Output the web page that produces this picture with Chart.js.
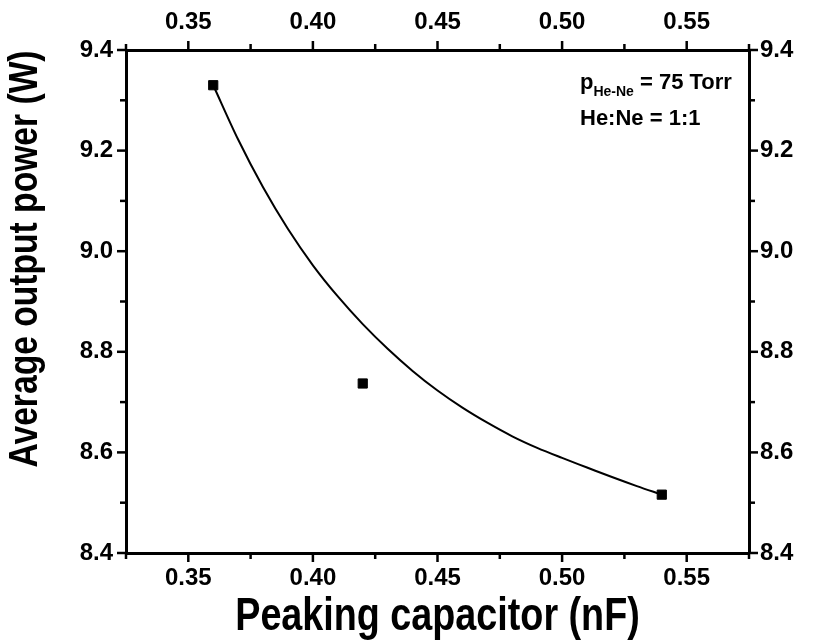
<!DOCTYPE html>
<html>
<head>
<meta charset="utf-8">
<script src="https://cdn.jsdelivr.net/npm/chart.js@4.4.1/dist/chart.umd.min.js"></script>
<style>
  html, body { margin: 0; padding: 0; background: #fff; }
  #wrap { width: 819px; height: 642px; }
</style>
</head>
<body>
<div id="wrap"><canvas id="chart-peaking-capacitor"></canvas></div>
<script>
// measured points
const capacitance = [0.36, 0.42, 0.54];
const outputPower = [9.33, 8.737, 8.516];

// fitted curve
const fitCapacitance = [0.36, 0.37, 0.38, 0.39, 0.40, 0.41, 0.42, 0.43, 0.44, 0.45, 0.46, 0.47, 0.48, 0.49, 0.50, 0.51, 0.52, 0.53, 0.54];
const fitPower = [9.330, 9.222, 9.127, 9.044, 8.972, 8.910, 8.855, 8.806, 8.762, 8.723, 8.689, 8.659, 8.632, 8.609, 8.589, 8.570, 8.551, 8.533, 8.516];

const xRange = [0.325, 0.575];
const yRange = [8.4, 9.4];

const xTitle = 'Peaking capacitor (nF)';
const yTitle = 'Average output power (W)';

const sans = 'Liberation Sans, Arial, sans-serif';
const tickFont = { family: sans, size: 24, weight: 'bold' };

function isMajor(v, per) {
    return Math.abs(v * per - Math.round(v * per)) < 1e-6;
}

function xLabel(v) { return isMajor(v, 20) ? v.toFixed(2) : ''; }
function yLabel(v) { return isMajor(v, 5) ? v.toFixed(1) : ''; }

const gridOpts = {
    display: true,
    drawOnChartArea: false,
    drawTicks: true,
    tickLength: 8,
    tickColor: 'rgba(0,0,0,0)'
};
const borderOpts = { display: true, color: '#000', width: 3 };

// outward ticks, long for labelled values and short for the rest
const tickMarks = {
    id: 'tickMarks',
    afterDraw(chart) {
        const ctx = chart.ctx;
        const a = chart.chartArea;
        ctx.save();
        ctx.strokeStyle = '#000';
        ctx.lineWidth = 2.5;
        ['x', 'x2', 'y', 'y2'].forEach(function (id) {
            const s = chart.scales[id];
            s.ticks.forEach(function (t) {
                const major = id[0] === 'x' ? isMajor(t.value, 20) : isMajor(t.value, 5);
                const len = major ? 9 : 6;
                const p = s.getPixelForValue(t.value);
                ctx.beginPath();
                if (id === 'x') { ctx.moveTo(p, a.bottom); ctx.lineTo(p, a.bottom + len); }
                if (id === 'x2') { ctx.moveTo(p, a.top); ctx.lineTo(p, a.top - len); }
                if (id === 'y') { ctx.moveTo(a.left, p); ctx.lineTo(a.left - len, p); }
                if (id === 'y2') { ctx.moveTo(a.right, p); ctx.lineTo(a.right + len, p); }
                ctx.stroke();
            });
        });
        ctx.restore();
    }
};

// the axis titles use a narrow bold face, so squeeze the text sideways
function drawText(ctx, text, x, y, size, squeeze, align) {
    ctx.save();
    ctx.font = 'bold ' + size + 'px ' + sans;
    ctx.translate(x, y);
    ctx.scale(squeeze, 1);
    ctx.textAlign = align || 'left';
    ctx.fillText(text, 0, 0);
    const w = ctx.measureText(text).width * squeeze;
    ctx.restore();
    return w;
}

const labels = {
    id: 'labels',
    afterDraw(chart) {
        const ctx = chart.ctx;
        const a = chart.chartArea;
        ctx.save();
        ctx.fillStyle = '#000';
        ctx.textBaseline = 'alphabetic';

        // axis titles
        drawText(ctx, xTitle, (a.left + a.right) / 2, 630, 46, 0.82, 'center');
        ctx.save();
        ctx.translate(37, 259);
        ctx.rotate(-Math.PI / 2);
        drawText(ctx, yTitle, 0, 0, 41, 0.82, 'center');
        ctx.restore();

        // conditions box
        let x = 580;
        x += drawText(ctx, 'p', x, 89, 22, 1);
        x += drawText(ctx, 'He-Ne', x, 96, 14, 1);
        drawText(ctx, ' = 75 Torr', x, 89, 22, 1);
        drawText(ctx, 'He:Ne = 1:1', 580, 125, 22, 1);
        ctx.restore();
    }
};

function fixSize(prop, val) {
    return function (scale) { scale[prop] = val; };
}

const ctx = document.getElementById('chart-peaking-capacitor').getContext('2d');
const myChart = new Chart(ctx, {
    type: 'scatter',
    data: {
        datasets: [{
                label: 'Fit',
                data: fitCapacitance.map((x, i) => ({ x: x, y: fitPower[i] })),
                showLine: true,
                borderColor: '#000',
                borderWidth: 2,
                pointRadius: 0,
                cubicInterpolationMode: 'monotone',
                xAxisID: 'x',
                yAxisID: 'y'
            }, {
                label: 'Measured',
                data: capacitance.map((x, i) => ({ x: x, y: outputPower[i] })),
                showLine: false,
                pointStyle: 'rect',
                pointRadius: 6.5,
                backgroundColor: '#000',
                borderColor: '#000',
                borderWidth: 1,
                xAxisID: 'x',
                yAxisID: 'y'
            }]
    },
    options: {
        responsive: true,
        maintainAspectRatio: false,
        animation: false,
        layout: { padding: 0 },
        plugins: {
            legend: { display: false },
            tooltip: { enabled: false }
        },
        scales: {
            x: {
                type: 'linear',
                position: 'bottom',
                min: xRange[0],
                max: xRange[1],
                afterFit: fixSize('height', 89),
                ticks: { stepSize: 0.025, autoSkip: false, maxRotation: 0, color: '#000', font: tickFont, padding: 3, callback: xLabel },
                grid: gridOpts,
                border: borderOpts
            },
            x2: {
                type: 'linear',
                position: 'top',
                min: xRange[0],
                max: xRange[1],
                afterFit: fixSize('height', 50),
                ticks: { stepSize: 0.025, autoSkip: false, maxRotation: 0, color: '#000', font: tickFont, padding: 5, callback: xLabel },
                grid: gridOpts,
                border: borderOpts
            },
            y: {
                type: 'linear',
                position: 'left',
                min: yRange[0],
                max: yRange[1],
                afterFit: fixSize('width', 126),
                ticks: { stepSize: 0.1, autoSkip: false, color: '#000', font: tickFont, padding: 5, callback: yLabel },
                grid: gridOpts,
                border: borderOpts
            },
            y2: {
                type: 'linear',
                position: 'right',
                min: yRange[0],
                max: yRange[1],
                afterFit: fixSize('width', 70),
                ticks: { stepSize: 0.1, autoSkip: false, color: '#000', font: tickFont, padding: 3, callback: yLabel },
                grid: gridOpts,
                border: borderOpts
            }
        }
    },
    plugins: [tickMarks, labels]
});
</script>
</body>
</html>
